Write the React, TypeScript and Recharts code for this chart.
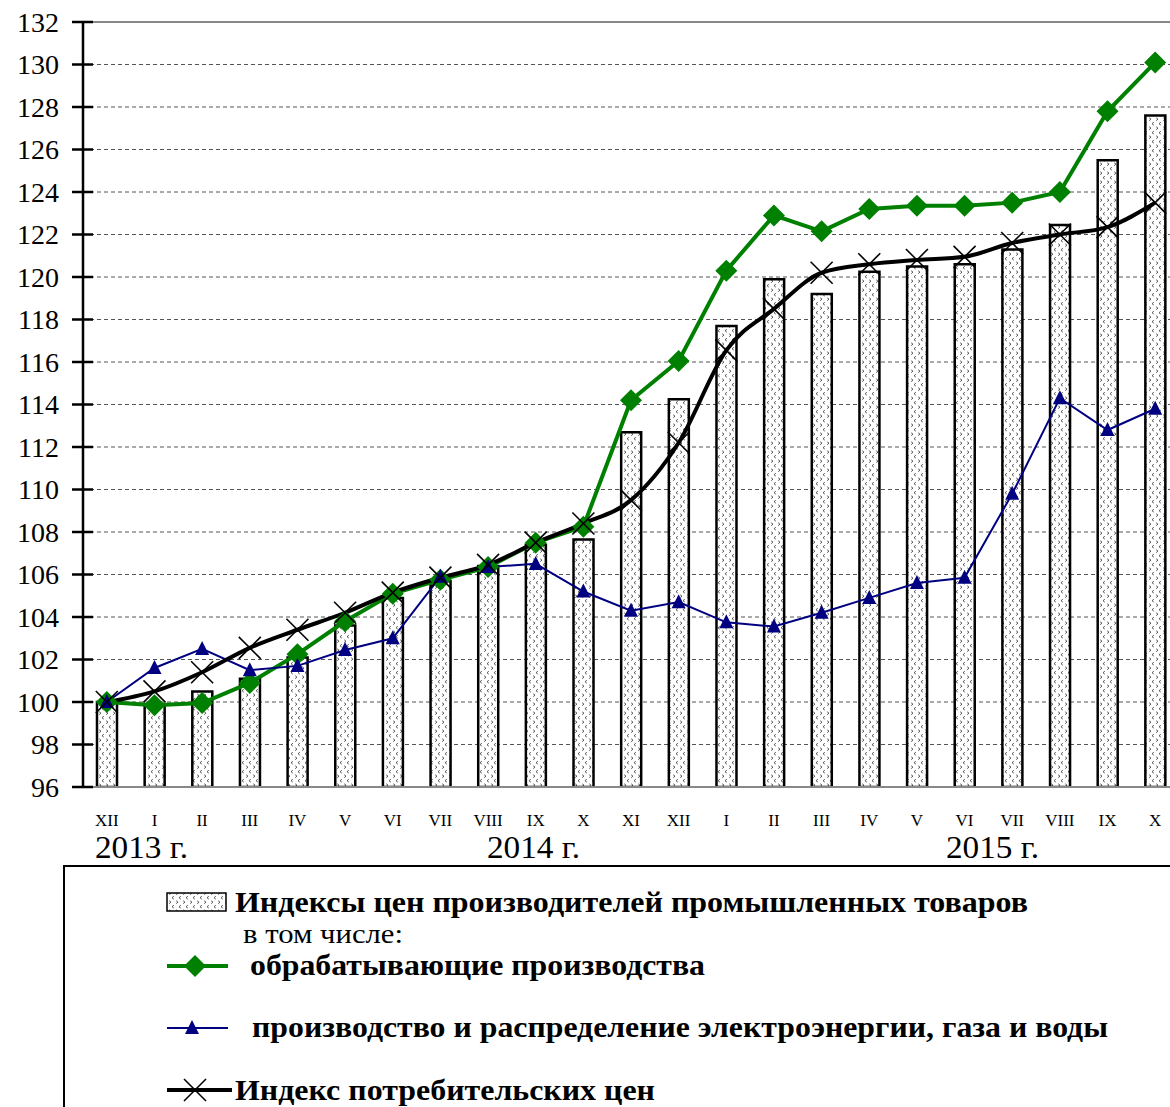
import React from "react";
import {
  ComposedChart,
  Bar,
  Line,
  XAxis,
  YAxis,
  CartesianGrid,
  ReferenceLine,
} from "recharts";

const months = ["XII", "I", "II", "III", "IV", "V", "VI", "VII", "VIII", "IX", "X", "XI", "XII", "I", "II", "III", "IV", "V", "VI", "VII", "VIII", "IX", "X"];
const ppi = [100.0, 99.9, 100.5, 101.1, 102.1, 103.6, 104.9, 105.7, 106.4, 107.4, 107.65, 112.7, 114.25, 117.7, 119.9, 119.2, 120.25, 120.5, 120.6, 121.3, 122.45, 125.5, 127.6];
const manufacturing = [100.0, 99.85, 99.95, 100.9, 102.25, 103.8, 105.1, 105.75, 106.35, 107.5, 108.25, 114.2, 116.05, 120.3, 122.9, 122.15, 123.2, 123.35, 123.35, 123.5, 124.0, 127.8, 130.1];
const utilities = [100.0, 101.6, 102.5, 101.5, 101.7, 102.45, 103.0, 105.9, 106.35, 106.5, 105.2, 104.3, 104.7, 103.75, 103.55, 104.2, 104.9, 105.6, 105.85, 109.8, 114.3, 112.8, 113.8];
const cpi = [100.0, 100.5, 101.4, 102.55, 103.4, 104.2, 105.15, 105.85, 106.45, 107.5, 108.4, 109.5, 112.2, 116.55, 118.5, 120.2, 120.6, 120.8, 120.95, 121.6, 122.0, 122.35, 123.5];
const yTicks = [96, 98, 100, 102, 104, 106, 108, 110, 112, 114, 116, 118, 120, 122, 124, 126, 128, 130, 132];
const years = [
  { label: "2013 г.", x: 95 },
  { label: "2014 г.", x: 487 },
  { label: "2015 г.", x: 946 },
];

const data = months.map((m, i) => ({
  id: `${m}-${i}`,
  ppi: ppi[i],
  man: manufacturing[i],
  util: utilities[i],
  cpi: cpi[i],
}));

const FONT = "'Liberation Serif', 'Times New Roman', Times, serif";

const YTick = ({ x, y, payload }: any) => (
  <g>
    <line x1={x - 11} x2={x + 10} y1={y} y2={y} stroke="#000" strokeWidth={2.5} />
    <text x={x - 24} y={y} textAnchor="end" dominantBaseline="central" fontSize={28} style={{ fontFamily: FONT }} fill="#000">
      {payload.value}
    </text>
  </g>
);

const XTick = ({ x, y, index }: any) => (
  <text x={x} y={y + 25} textAnchor="middle" dominantBaseline="central" fontSize={17} style={{ fontFamily: FONT }} fill="#000">
    {months[index]}
  </text>
);

const Diamond = ({ cx, cy, index }: any) => (
  <polygon key={`d${index}`} points={`${cx},${cy - 11} ${cx + 11},${cy} ${cx},${cy + 11} ${cx - 11},${cy}`} fill="#008000" />
);

const Triangle = ({ cx, cy, index }: any) => (
  <polygon key={`t${index}`} points={`${cx},${cy - 8} ${cx + 7},${cy + 6} ${cx - 7},${cy + 6}`} fill="#000080" />
);

const Cross = ({ cx, cy, index }: any) => (
  <g key={`x${index}`} stroke="#000" strokeWidth={1.6}>
    <line x1={cx - 11} y1={cy - 11} x2={cx + 11} y2={cy + 11} />
    <line x1={cx - 11} y1={cy + 11} x2={cx + 11} y2={cy - 11} />
  </g>
);

const Pattern = ({ id }: { id: string }) => (
  <pattern id={id} patternUnits="userSpaceOnUse" width={7} height={9}>
    <rect width={7} height={9} fill="#fff" />
    <path d="M1.2,0.8 L3,2.2 L1.2,3.6" fill="none" stroke="#444" strokeWidth={0.9} />
    <path d="M5.8,5.3 L4,6.7 L5.8,8.1" fill="none" stroke="#444" strokeWidth={0.9} />
  </pattern>
);

function LegendBox() {
  const txt = { style: { fontFamily: FONT }, fill: "#000" };
  return (
    <svg width={1170} height={1107} style={{ position: "absolute", left: 0, top: 0, pointerEvents: "none" }}>
      <defs>
        <Pattern id="legendDots" />
      </defs>
      {years.map((y) => (
        <text key={y.label} x={y.x} y={858} fontSize={32} textLength={93} lengthAdjust="spacingAndGlyphs" {...txt}>
          {y.label}
        </text>
      ))}
      <rect x={64} y={866} width={1200} height={400} fill="none" stroke="#000" strokeWidth={2} />

      <rect x={167} y={893} width={59} height={18} fill="url(#legendDots)" stroke="#000" strokeWidth={1.5} />
      <text x={235} y={912} fontSize={29} fontWeight="bold" textLength={793} lengthAdjust="spacingAndGlyphs" {...txt}>
        Индексы цен производителей промышленных товаров
      </text>
      <text x={243} y={943} fontSize={28} textLength={160} lengthAdjust="spacingAndGlyphs" {...txt}>
        в том числе:
      </text>

      <line x1={167} x2={228} y1={966} y2={966} stroke="#008000" strokeWidth={4} />
      <Diamond cx={195} cy={966} index={0} />
      <text x={250} y={975} fontSize={29} fontWeight="bold" textLength={455} lengthAdjust="spacingAndGlyphs" {...txt}>
        обрабатывающие производства
      </text>

      <line x1={167} x2={228} y1={1028} y2={1028} stroke="#000080" strokeWidth={2} />
      <Triangle cx={192} cy={1028} index={0} />
      <text x={252} y={1037} fontSize={29} fontWeight="bold" textLength={856} lengthAdjust="spacingAndGlyphs" {...txt}>
        производство и распределение электроэнергии, газа и воды
      </text>

      <line x1={167} x2={232} y1={1090} y2={1090} stroke="#000" strokeWidth={4} />
      <Cross cx={195} cy={1090} index={0} />
      <text x={235} y={1100} fontSize={29} fontWeight="bold" textLength={420} lengthAdjust="spacingAndGlyphs" {...txt}>
        Индекс потребительских цен
      </text>
    </svg>
  );
}

export default function App() {
  return (
    <div
      style={{
        position: "absolute",
        left: 0,
        top: 0,
        width: 1170,
        height: 1107,
        overflow: "hidden",
        background: "#fff",
        fontFamily: FONT,
      }}
    >
      <ComposedChart
        width={1182}
        height={830}
        data={data}
        margin={{ top: 22, right: 3, bottom: 3, left: 0 }}
      >
        <defs>
          <Pattern id="ppiDots" />
        </defs>
        <CartesianGrid vertical={false} stroke="#555" strokeDasharray="4 3" strokeWidth={1} />
        <ReferenceLine y={132} stroke="#888" strokeWidth={2} />
        <XAxis
          dataKey="id"
          height={40}
          interval={0}
          tickLine={false}
          axisLine={{ stroke: "#888", strokeWidth: 2 }}
          tick={<XTick />}
        />
        <YAxis
          width={83}
          domain={[96, 132]}
          ticks={yTicks}
          allowDataOverflow
          tickLine={false}
          tickSize={0}
          tickMargin={0}
          axisLine={{ stroke: "#000", strokeWidth: 2.5 }}
          tick={<YTick />}
        />
        <Bar dataKey="ppi" barSize={20} fill="url(#ppiDots)" stroke="#000" strokeWidth={2.5} isAnimationActive={false} />
        <Line dataKey="man" type="linear" stroke="#008000" strokeWidth={4} dot={<Diamond />} activeDot={false} isAnimationActive={false} />
        <Line dataKey="util" type="linear" stroke="#000080" strokeWidth={2} dot={<Triangle />} activeDot={false} isAnimationActive={false} />
        <Line dataKey="cpi" type="monotone" stroke="#000" strokeWidth={4} dot={<Cross />} activeDot={false} isAnimationActive={false} />
      </ComposedChart>
      <LegendBox />
    </div>
  );
}
